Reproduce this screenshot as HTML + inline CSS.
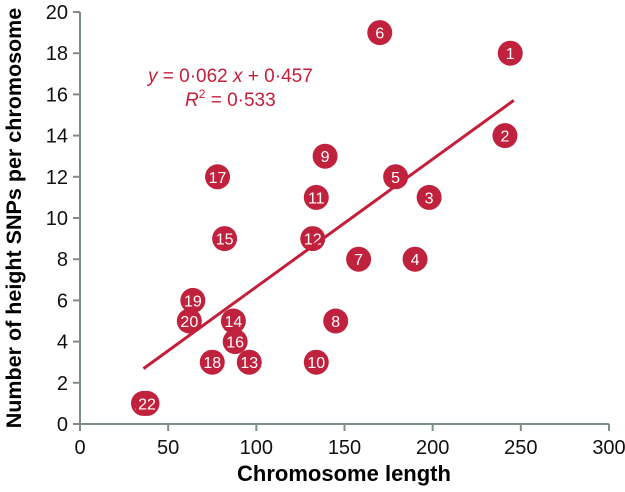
<!DOCTYPE html>
<html><head><meta charset="utf-8"><style>
body{margin:0;background:#fff;}
svg{display:block;font-family:"Liberation Sans",sans-serif;}
</style></head><body>
<svg id="chart" width="625" height="492">
<g id="axes"></g>
<g id="points"></g>
<g id="trend"></g>
<text x="148" y="82" fill="#c41e3a" font-size="19"><tspan font-style="italic">y</tspan> = 0·062 <tspan font-style="italic">x</tspan> + 0·457</text>
<text x="185" y="106" fill="#c41e3a" font-size="19"><tspan font-style="italic">R</tspan><tspan font-size="12" dy="-8">2</tspan><tspan dy="8"> = 0·533</tspan></text>
<text x="344" y="481" text-anchor="middle" font-size="22" font-weight="bold">Chromosome length</text>
<text transform="translate(21,218) rotate(-90)" text-anchor="middle" font-size="21.5" font-weight="bold">Number of height SNPs per chromosome</text>
</svg>
<script>
const labels=["1","2","3","4","5","6","7","8","9","10","11","12","13","14","15","16","17","18","19","20","21","22"];
const xVals=[244,241,198,190,179,170,158,145,139,134,134,132,96,87,82,88,78,75,64,62,36,38];
const yVals=[18,14,11,8,12,19,8,5,13,3,11,9,3,5,9,4,12,3,6,5,1,1];
const xTicks=[0,50,100,150,200,250,300];
const yTicks=[0,2,4,6,8,10,12,14,16,18,20];
const slope=0.062, intercept=0.457, fitMin=36, fitMax=246;
const X=v=>80+v*(609-80)/300;
const Y=v=>424-v*(424-12)/20;
const NS="http://www.w3.org/2000/svg";
function mk(t,a,p){const e=document.createElementNS(NS,t);for(const k in a)e.setAttribute(k,a[k]);p.appendChild(e);return e;}
const ax=document.getElementById('axes');
const ac="#7f8c8d";
let l=mk('line',{x1:X(0),y1:Y(0),x2:X(0),y2:Y(20),stroke:ac,'stroke-width':2},ax);


l=mk('line',{x1:X(0)-7,y1:Y(0),x2:X(300),y2:Y(0),stroke:ac,'stroke-width':2},ax);


yTicks.forEach(v=>{
  const t=mk('line',{x1:X(0)-7,y1:Y(v),x2:X(0),y2:Y(v),stroke:ac,'stroke-width':2},ax);
  
  
  const tx=mk('text',{x:X(0)-12,y:Y(v)+7,'text-anchor':'end','font-size':20,fill:'#111'},ax);
  tx.textContent=v;
  
  
});
xTicks.forEach(v=>{
  const t=mk('line',{x1:X(v),y1:Y(0),x2:X(v),y2:Y(0)+7,stroke:ac,'stroke-width':2},ax);
  
  
  const tx=mk('text',{x:X(v),y:Y(0)+30,'text-anchor':'middle','font-size':20,fill:'#111'},ax);
  tx.textContent=v;
  
  
});
const pg=document.getElementById('points');
labels.forEach((lab,i)=>{
  const g=mk('g',{},pg);
  
  
  mk('circle',{cx:X(xVals[i]),cy:Y(yVals[i]),r:12.5,fill:'#c0223d'},g);
  const t=mk('text',{x:X(xVals[i]),y:Y(yVals[i])+6,'text-anchor':'middle','font-size':16,fill:'#fff'},g);
  t.textContent=lab;
});
const tl=mk('line',{x1:X(fitMin),y1:Y(slope*fitMin+intercept),x2:X(fitMax),y2:Y(slope*fitMax+intercept),stroke:'#c41e3a','stroke-width':3},document.getElementById('trend'));


</script>
</body></html>
